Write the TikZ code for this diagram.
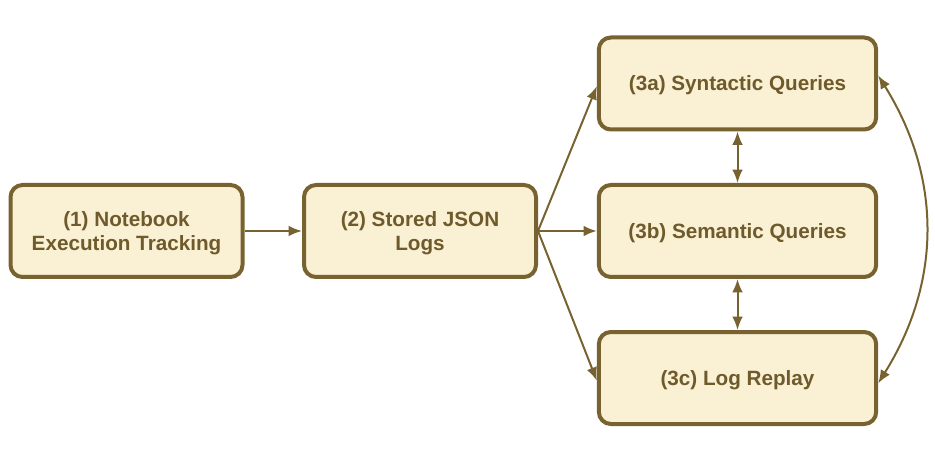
\documentclass[tikz,border=0pt]{standalone}
\usepackage{fontspec}
\setmainfont{Liberation Sans}
\usetikzlibrary{arrows.meta}
\definecolor{bord}{HTML}{786230}
\definecolor{fillc}{HTML}{FAF0D4}
\definecolor{txt}{HTML}{6E5A2A}
\begin{document}
\begin{tikzpicture}[x=0.75pt,y=-0.75pt,
  box/.style={draw=bord, fill=fillc, line width=3pt, rounded corners=9pt, text=txt,
    font=\bfseries\fontsize{15.5}{18}\selectfont, align=center, inner sep=0pt,
    minimum height=69pt, text depth=0pt},
  smallbox/.style={box, minimum width=174pt},
  bigbox/.style={box, minimum width=208pt},
  conn/.style={draw=bord, line width=1.5pt, -{Latex[length=10pt,width=8pt]}},
  dconn/.style={draw=bord, line width=1.5pt, {Latex[length=10pt,width=8pt]}-{Latex[length=10pt,width=8pt]}},
]
\useasboundingbox (0,0) rectangle (935,463);
\node[smallbox] (n1) at (126.5,231) {(1) Notebook\\Execution Tracking};
\node[smallbox] (n2) at (420,231) {(2) Stored JSON\\Logs};
\node[bigbox] (a) at (737.5,83.5) {(3a) Syntactic Queries};
\node[bigbox] (b) at (737.5,231) {(3b) Semantic Queries};
\node[bigbox] (c) at (737.5,378) {(3c) Log Replay};
\draw[conn] (n1.east) -- (n2.west);
\draw[conn] (n2.east) -- ([yshift=-2pt]a.west);
\draw[conn] (n2.east) -- (b.west);
\draw[conn] (n2.east) -- ([yshift=-2pt]c.west);
\draw[dconn] (a.south) -- (b.north);
\draw[dconn] (b.south) -- (c.north);
\draw[dconn] ([yshift=-4pt]c.east) to[bend right=32] ([yshift=6pt]a.east);
\end{tikzpicture}
\end{document}
